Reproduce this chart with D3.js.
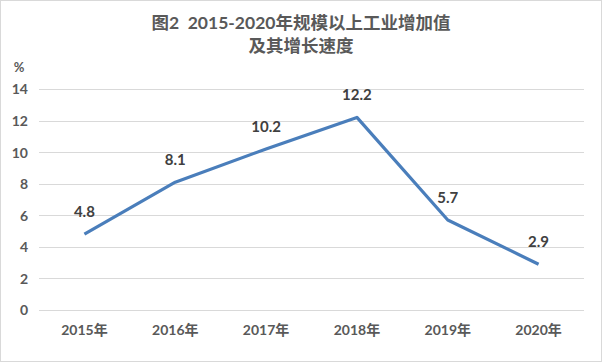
<!DOCTYPE html>
<html>
<head>
<meta charset="utf-8">
<script src="https://cdn.jsdelivr.net/npm/d3@7/dist/d3.min.js"></script>
<style>
  body { margin: 0; background: #fff; }
  text { font-family: Lato, "Noto Sans CJK SC", sans-serif; font-weight: bold; fill: #595959; }
</style>
</head>
<body>
<div id="chart"></div>
<script>
var width = 602,
    height = 362;

var years = ["2015年", "2016年", "2017年", "2018年", "2019年", "2020年"];
var growth = [4.8, 8.1, 10.2, 12.2, 5.7, 2.9];
var yTicks = [0, 2, 4, 6, 8, 10, 12, 14];
var titleLines = ["图2  2015-2020年规模以上工业增加值", "及其增长速度"];

var svg = d3.select("#chart").append("svg").attr("width", width).attr("height", height);

svg.append("rect")
  .attr("x", 0.5).attr("y", 0.5)
  .attr("width", width - 1).attr("height", height - 1)
  .attr("fill", "#fff").attr("stroke", "#d9d9d9");

var x = d3.scaleBand().domain(years).range([39, 584]);
var y = d3.scaleLinear().domain([0, 14]).range([310, 89]);

// gridlines
svg.append("g")
  .selectAll("line")
  .data(yTicks)
  .enter().append("line")
  .attr("x1", 39).attr("x2", 584)
  .attr("y1", function(d) { return Math.round(y(d)) + 0.5; })
  .attr("y2", function(d) { return Math.round(y(d)) + 0.5; })
  .attr("stroke", "#d9d9d9")
  .attr("stroke-width", 1);

// y axis labels
var yAxis = svg.append("g")
  .attr("transform", "translate(28,0)")
  .call(d3.axisLeft(y).tickValues(yTicks).tickSize(0).tickPadding(0));
yAxis.select(".domain").remove();
yAxis.selectAll("text").style("font-size", "14px").attr("dy", "0.35em");

svg.append("text")
  .attr("x", 19).attr("y", 72)
  .attr("text-anchor", "middle")
  .style("font-size", "13px")
  .text("%");

// x axis labels
var xAxis = svg.append("g")
  .attr("transform", "translate(0,330)")
  .call(d3.axisBottom(x).tickSize(0).tickPadding(0));
xAxis.select(".domain").remove();
xAxis.selectAll("text").style("font-size", "14px").attr("dy", "0.35em");

// line
var line = d3.line()
  .x(function(d, i) { return x(years[i]) + x.bandwidth() / 2; })
  .y(function(d) { return y(d); });

svg.append("path")
  .datum(growth)
  .attr("d", line)
  .attr("fill", "none")
  .attr("stroke", "#4a7ebb")
  .attr("stroke-width", 3.2)
  .attr("stroke-linejoin", "round");

// data labels
svg.append("g")
  .selectAll("text")
  .data(growth)
  .enter().append("text")
  .attr("x", function(d, i) { return x(years[i]) + x.bandwidth() / 2; })
  .attr("y", function(d) { return y(d) - 17; })
  .attr("text-anchor", "middle")
  .style("font-size", "15px")
  .style("fill", "#404040")
  .text(function(d) { return d.toFixed(1); });

// title
svg.append("g")
  .selectAll("text")
  .data(titleLines)
  .enter().append("text")
  .attr("x", 301)
  .attr("y", function(d, i) { return 29 + i * 23; })
  .attr("text-anchor", "middle")
  .style("font-size", "17.5px")
  .style("white-space", "pre")
  .text(function(d) { return d; });
</script>
</body>
</html>
